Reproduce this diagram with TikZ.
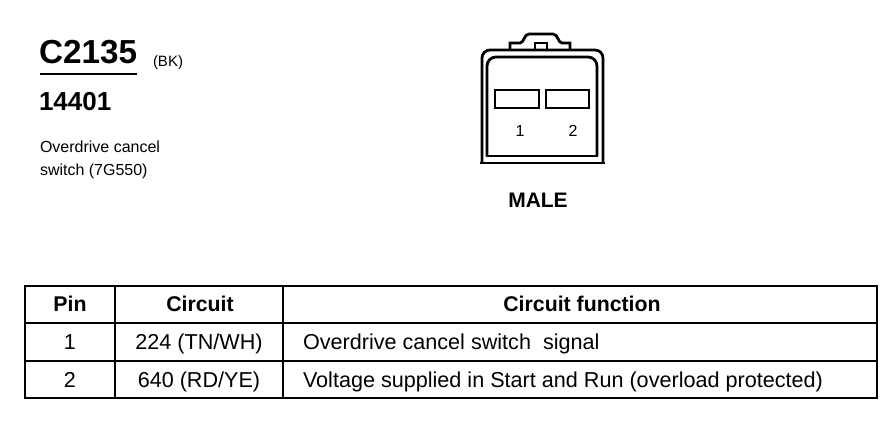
\documentclass[tikz,border=0pt]{standalone}
\usepackage{fontspec}
\setmainfont{Liberation Sans}
\begin{document}
\begin{tikzpicture}[x=1pt,y=-1pt,
  txt/.style={inner sep=0pt,outer sep=0pt},
  tbl/.style={line width=2pt},
  conn/.style={line width=2.8pt},
  cell/.style={txt,anchor=base,font=\fontsize{21.6}{25}\selectfont},
  celll/.style={txt,anchor=base west,font=\fontsize{21.6}{25}\selectfont},
  head/.style={txt,anchor=base,font=\fontsize{21.3}{25}\selectfont\bfseries}]
\useasboundingbox (0,0) rectangle (894,432);
% title block
\node[txt,anchor=base west,font=\fontsize{33.3}{38}\selectfont\bfseries] (title) at (39,63) {C2135};
\draw[line width=2pt] (40,74) -- (137,74);
\node[txt,anchor=base west,font=\fontsize{15}{17}\selectfont] (bk) at (153,66) {(BK)};
\node[txt,anchor=base west,font=\fontsize{26}{30}\selectfont\bfseries] (num) at (39,110) {14401};
\node[txt,anchor=base west,font=\fontsize{16}{18}\selectfont] (d1) at (40,152) {Overdrive cancel};
\node[txt,anchor=base west,font=\fontsize{16}{18}\selectfont] (d2) at (40,175) {switch (7G550)};
% connector
\draw[conn,rounded corners=8] (482,163) -- (482,50) -- (603,50) -- (603,163);
\draw[conn] (480,163) -- (605,163);
\draw[conn,rounded corners=9] (487,156) -- (487,57) -- (597,57) -- (597,156);
\draw[conn,line cap=rect] (487,156) -- (597,156);
\draw[conn] (510,50) -- (510,43) -- (520,43) .. controls (524,43) and (524,34) .. (529,34) -- (553,34) .. controls (558,34) and (558,43) .. (562,43) -- (570,43) -- (570,50);
\draw[conn] (535,50) -- (535,43) -- (547,43) -- (547,50);
\draw[conn] (495,90) rectangle (539,108);
\draw[conn] (546,90) rectangle (589,108);
\node[txt,anchor=base,font=\fontsize{16}{19}\selectfont] (p1) at (520,136) {1};
\node[txt,anchor=base,font=\fontsize{16}{19}\selectfont] (p2) at (573,136) {2};
\node[txt,anchor=base,font=\fontsize{21}{25}\selectfont\bfseries] (male) at (538,207) {MALE};
% table
\draw[tbl] (25,286) rectangle (877,398);
\draw[tbl] (25,323) -- (877,323);
\draw[tbl] (25,361) -- (877,361);
\draw[tbl] (115,286) -- (115,398);
\draw[tbl] (283,286) -- (283,398);
\node[head] (hpin) at (70,311) {Pin};
\node[head] (hcir) at (200,311) {Circuit};
\node[head] (hfun) at (582,311) {Circuit function};
\node[cell] (r1p) at (70,349) {1};
\node[cell] (r1c) at (199,349) {224 (TN/WH)};
\node[celll] (r1f) at (303,349) {Overdrive cancel switch~ signal};
\node[cell] (r2p) at (70,387) {2};
\node[cell] (r2c) at (199,387) {640 (RD/YE)};
\node[celll] (r2f) at (303,387) {Voltage supplied in Start and Run (overload protected)};
\end{tikzpicture}
\end{document}
